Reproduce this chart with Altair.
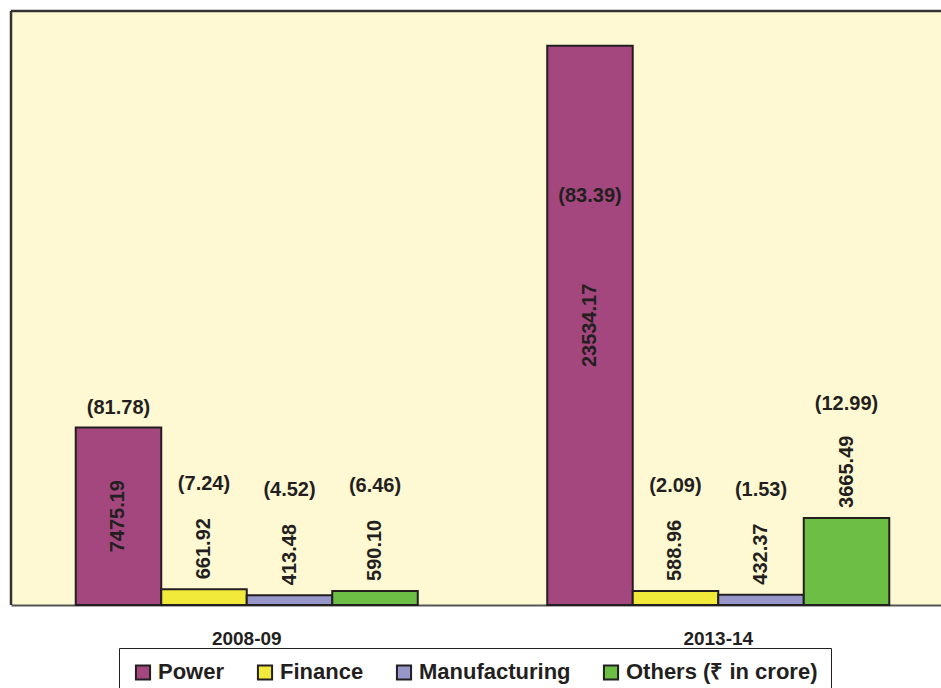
import altair as alt
import pandas as pd

years = ["2008-09", "2013-14"]
sectors = ["Power", "Finance", "Manufacturing", "Others"]
values_2008 = [7475.19, 661.92, 413.48, 590.10]
values_2013 = [23534.17, 588.96, 432.37, 3665.49]
shares_2008 = [81.78, 7.24, 4.52, 6.46]
shares_2013 = [83.39, 2.09, 1.53, 12.99]
colors = ["#A4477F", "#F2EA3B", "#9696C8", "#6CBE45"]

rows = []
for yr, vals, shs in [(years[0], values_2008, shares_2008), (years[1], values_2013, shares_2013)]:
    for s, v, p in zip(sectors, vals, shs):
        rows.append({"year": yr, "sector": s, "value": v, "share": p})
df = pd.DataFrame(rows)

FONT = "Liberation Sans"
TXT = "#231F20"

x = alt.X("year:N", sort=years,
          scale=alt.Scale(domain=years, range=[0, 943], paddingInner=0, paddingOuter=0),
          axis=alt.Axis(title=None, ticks=False, tickSize=0, labelAngle=0,
                        labelFont=FONT, labelFontSize=19, labelFontWeight="bold",
                        labelColor=TXT, labelBaseline="alphabetic", labelPadding=39,
                        domainColor="#555555", domainWidth=2))
xo = alt.XOffset("sector:N", sort=sectors,
                 scale=alt.Scale(domain=sectors, paddingInner=0, paddingOuter=0.757))
y = alt.Y("value:Q", scale=alt.Scale(domain=[0, 25000], nice=False, zero=True), axis=None)

base = alt.Chart(df).encode(x=x, xOffset=xo)

bars = base.mark_bar(stroke=TXT, strokeWidth=2).encode(
    y=y,
    color=alt.Color("sector:N", sort=sectors,
                    scale=alt.Scale(domain=sectors, range=colors),
                    legend=alt.Legend(
                        title=None, orient="none", direction="horizontal",
                        legendX=108, legendY=637,
                        labelExpr="datum.label == 'Others' ? 'Others (₹ in crore)' : datum.label",
                        labelFont=FONT, labelFontSize=22, labelFontWeight="bold", labelColor=TXT,
                        symbolType="square", symbolSize=200, symbolStrokeColor=TXT,
                        symbolStrokeWidth=2, symbolOpacity=1, labelOffset=4,
                        columnPadding=28, padding=13, strokeColor=TXT, fillColor="white",
                        labelLimit=400)),
)

txt_kw = dict(font=FONT, fontSize=20, fontWeight="bold", color=TXT)

val_inside = base.transform_filter("datum.sector == 'Power'").transform_calculate(
    mid="datum.value / 2", lab="format(datum.value, '.2f')"
).mark_text(angle=270, align="center", baseline="middle", **txt_kw).encode(
    y=alt.Y("mid:Q", scale=alt.Scale(domain=[0, 25000], nice=False), axis=None),
    text="lab:N")

val_above = base.transform_filter("datum.sector != 'Power'").transform_calculate(
    lab="format(datum.value, '.2f')"
).mark_text(angle=270, align="left", baseline="middle", dx=10, **txt_kw).encode(
    y=y, text="lab:N")

pct_small = base.transform_filter("datum.sector != 'Power' && datum.value < 1000").transform_calculate(
    lab="'(' + format(datum.share, '.2f') + ')'"
).mark_text(align="center", baseline="middle", dy=-105, **txt_kw).encode(y=y, text="lab:N")

pct_big = base.transform_filter("datum.sector != 'Power' && datum.value >= 1000").transform_calculate(
    lab="'(' + format(datum.share, '.2f') + ')'"
).mark_text(align="center", baseline="middle", dy=-114, **txt_kw).encode(y=y, text="lab:N")

pct_p1 = base.transform_filter("datum.sector == 'Power' && datum.year == '2008-09'").transform_calculate(
    lab="'(' + format(datum.share, '.2f') + ')'"
).mark_text(align="center", baseline="middle", dy=-19, **txt_kw).encode(y=y, text="lab:N")

pct_p2 = base.transform_filter("datum.sector == 'Power' && datum.year == '2013-14'").transform_calculate(
    lab="'(' + format(datum.share, '.2f') + ')'"
).mark_text(align="center", baseline="middle", dy=150, **txt_kw).encode(y=y, text="lab:N")

border = alt.Chart(alt.Data(values=[{"k": 1}]))
top_line = border.mark_rule(color="#333333", strokeWidth=2.5).encode(
    x=alt.value(0), x2=alt.value(940), y=alt.value(0))
left_line = border.mark_rule(color="#333333", strokeWidth=2.5).encode(
    x=alt.value(0), y=alt.value(0), y2=alt.value(594))

chart = alt.layer(bars, val_inside, val_above, pct_small, pct_big, pct_p1, pct_p2,
                  top_line, left_line).properties(
    width=930, height=594,
    autosize=alt.AutoSizeParams(type="none"),
    padding={"left": 11, "top": 11, "right": 0, "bottom": 83},
    background="white",
).configure_view(fill="#FFF9D3", stroke="transparent")

chart.save("out.html", embed_options={"renderer": "svg", "actions": False})
